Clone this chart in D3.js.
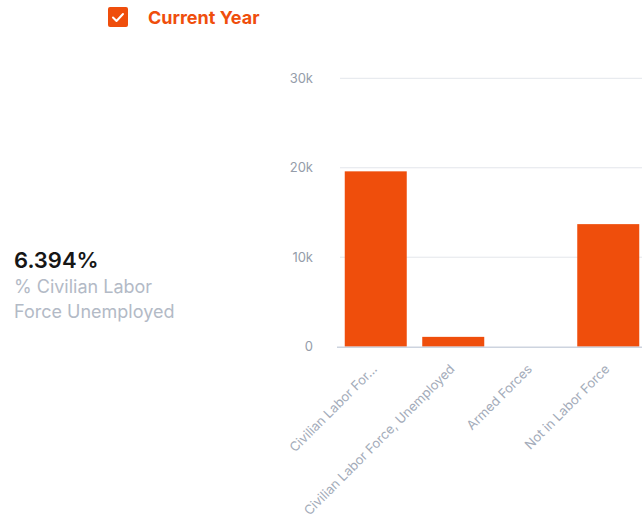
<!DOCTYPE html>
<html>
<head>
<meta charset="utf-8">
<script src="https://cdn.jsdelivr.net/npm/d3@7"></script>
<style>
  body { margin: 0; background: #fff; }
  svg { display: block; font-family: Inter, "Open Sans", sans-serif; }
</style>
</head>
<body>
<div class="chart"></div>
<script>
var categories = ["Civilian Labor For...", "Civilian Labor Force, Unemployed", "Armed Forces", "Not in Labor Force"];
var values = [19600, 1100, 0, 13700];
var yTicks = [0, 10000, 20000, 30000];
var yTickLabels = ["0", "10k", "20k", "30k"];
var seriesName = "Current Year";
var statValue = "6.394%";
var statLabel = ["% Civilian Labor", "Force Unemployed"];

var orange = "#ef4e0c";
var width = 642, height = 524;

var svg = d3.select(".chart").append("svg")
  .attr("width", width)
  .attr("height", height);

// legend
var legend = svg.append("g").attr("transform", "translate(108, 7)");
legend.append("rect")
  .attr("width", 20).attr("height", 20).attr("rx", 2)
  .attr("fill", orange);
legend.append("path")
  .attr("d", "M5,10.5 L8.5,14 L15,7")
  .attr("fill", "none").attr("stroke", "#fff")
  .attr("stroke-width", 2).attr("stroke-linecap", "round").attr("stroke-linejoin", "round");
legend.append("text")
  .attr("x", 40).attr("y", 17)
  .attr("fill", orange)
  .attr("font-size", 18).attr("font-weight", 700)
  .text(seriesName);

// stat on the left
svg.append("text")
  .attr("x", 14).attr("y", 268)
  .attr("fill", "#161616")
  .attr("font-size", 22).attr("font-weight", 600)
  .text(statValue);
svg.selectAll(".stat-label").data(statLabel).enter().append("text")
  .attr("class", "stat-label")
  .attr("x", 14).attr("y", (d, i) => 293 + i * 25)
  .attr("fill", "#b3bac6")
  .attr("font-size", 18)
  .text((d) => d);

// chart
var xScale = d3.scaleBand()
  .domain(categories)
  .range([337, 647])
  .paddingInner(0.2)
  .paddingOuter(0.1);

var yScale = d3.scaleLinear().domain([0, 30000]).range([346.7, 78.3]);

svg.append("g").selectAll("line").data(yTicks.slice(1)).enter().append("line")
  .attr("x1", 340).attr("x2", 650)
  .attr("y1", (d) => yScale(d)).attr("y2", (d) => yScale(d))
  .attr("stroke", "#e3e6eb").attr("stroke-width", 1);

var yAxis = svg.append("g")
  .attr("transform", "translate(313, 0)")
  .call(d3.axisLeft(yScale).tickValues(yTicks).tickFormat((d, i) => yTickLabels[i]).tickSize(0).tickPadding(0));
yAxis.select(".domain").remove();
yAxis.selectAll("text")
  .attr("fill", "#959daa")
  .attr("font-size", 13)
  .attr("font-family", "Inter, sans-serif");

svg.selectAll(".bar").data(categories).enter().append("rect")
  .attr("class", "bar")
  .attr("x", (d) => xScale(d))
  .attr("y", (d, i) => yScale(values[i]))
  .attr("width", xScale.bandwidth())
  .attr("height", (d, i) => yScale(0) - yScale(values[i]))
  .attr("fill", orange);

var xAxis = svg.append("g")
  .attr("transform", `translate(0, ${yScale(0)})`)
  .call(d3.axisBottom(xScale).tickSize(0).tickPadding(0));
xAxis.select(".domain")
  .attr("d", "M337,0.5H650")
  .attr("stroke", "#cdd4df").attr("stroke-width", 1.5);
xAxis.selectAll("text")
  .attr("fill", "#a3abb9")
  .attr("font-size", 13)
  .attr("font-family", "Inter, sans-serif")
  .attr("text-anchor", "end")
  .attr("dy", "0.35em")
  .attr("transform", "translate(-1, 20) rotate(-45)");
</script>
</body>
</html>
